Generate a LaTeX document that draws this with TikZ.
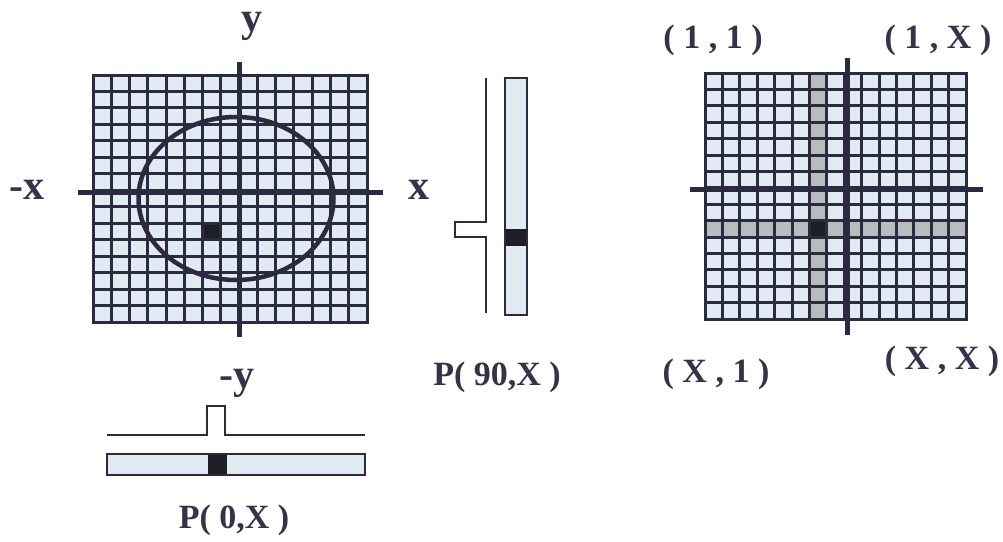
\documentclass[tikz,border=0pt]{standalone}
\usepackage{fontspec}
\setmainfont{Liberation Serif}
\usepackage{xcolor}
\usepackage{tikz}
\usetikzlibrary{
  positioning,
  calc
}
\definecolor{dmLine}{HTML}{2C2A40}
\definecolor{dmCell}{HTML}{E0EBF1}
\definecolor{dmShade}{HTML}{B7BCBC}
\definecolor{dmHit}{HTML}{1E1F24}
\definecolor{dmText}{HTML}{35324A}
\tikzset{
  cellbox/.style={fill=dmCell},
  gridline/.style={draw=dmLine, line width=3pt, line cap=rect},
  axisline/.style={draw=dmLine, line width=5pt},
  orbit/.style={draw=dmLine, line width=4.5pt},
  stripbox/.style={draw=dmLine, line width=1.8pt, fill=dmCell},
  profile/.style={draw=dmLine, line width=1.5pt},
  hitcell/.style={fill=dmHit},
  shadecell/.style={fill=dmShade},
  axislabel/.style={inner sep=0pt, text=dmText, font=\fontsize{42}{42}\selectfont\bfseries},
  coordlabel/.style={inner sep=0pt, text=dmText, font=\fontsize{34}{34}\selectfont\bfseries}
}

\begin{document}
\begin{tikzpicture}[x=1pt, y=-1pt]
  \useasboundingbox[fill=white] (0,0) rectangle (1003,541);

  % left grid with the object
  \begin{scope}[shift={(93pt,-75pt)}, x=18.27pt, y=-16.47pt]
    \fill[cellbox] (0,0) rectangle (15,15);
    \fill[hitcell] (6,9) rectangle (7,10);
    \foreach \i in {0,...,15}{
      \draw[gridline] (\i,0) -- (\i,15);
      \draw[gridline] (0,\i) -- (15,\i);
    }
  \end{scope}
  \draw[axisline] (239,62) -- (239,337);
  \draw[axisline] (78,192) -- (383,192);
  \draw[orbit] (236,198.5) ellipse [x radius=97.5, y radius=81.5];

  \node[axislabel] (ylab) at (252,26) {y};
  \node[axislabel] (nxlab) at (27,190) {-x};
  \node[axislabel] (xlab) at (419,190) {x};
  \node[axislabel] (nylab) at (237,383) {-y};

  % projection at 90 degrees
  \draw[profile] (486,78) -- (486,222) -- (455,222) -- (455,237) -- (486,237) -- (486,313);
  \draw[stripbox] (505,78) rectangle (527,315);
  \fill[hitcell] (506,229) rectangle (526,246);
  \node[coordlabel] (p90lab) at (497,377) {P( 90,X )};

  % projection at 0 degrees
  \draw[profile] (107,435) -- (207,435) -- (207,406) -- (225,406) -- (225,435) -- (365,435);
  \draw[stripbox] (107,454) rectangle (365,475);
  \fill[hitcell] (208,455) rectangle (227,474);
  \node[coordlabel] (p0lab) at (234,520) {P( 0,X )};

  % right grid, back projection
  \begin{scope}[shift={(705pt,-73pt)}, x=17.4pt, y=-16.4pt]
    \fill[cellbox] (0,0) rectangle (15,15);
    \fill[shadecell] (6,0) rectangle (7,15);
    \fill[shadecell] (0,9) rectangle (15,10);
    \fill[hitcell] (6,9) rectangle (7,10);
    \foreach \i in {0,...,15}{
      \draw[gridline] (\i,0) -- (\i,15);
      \draw[gridline] (0,\i) -- (15,\i);
    }
  \end{scope}
  \draw[axisline] (847,58) -- (847,335);
  \draw[axisline] (690,189) -- (983,189);

  \node[coordlabel] (tl) at (713,40) {( 1 , 1 )};
  \node[coordlabel] (tr) at (938,40) {( 1 , X )};
  \node[coordlabel] (bl) at (716,374) {( X , 1 )};
  \node[coordlabel] (br) at (942,361) {( X , X )};
\end{tikzpicture}
\end{document}
